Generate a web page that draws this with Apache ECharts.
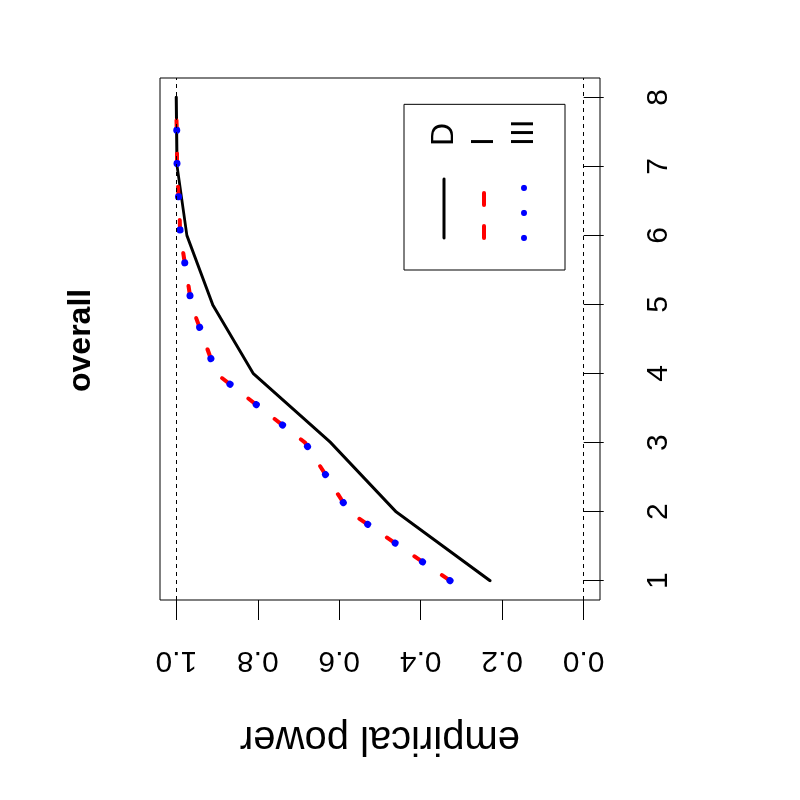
<!DOCTYPE html>
<html>
<head>
<meta charset="utf-8">
<script src="https://cdn.jsdelivr.net/npm/echarts@6/dist/echarts.min.js"></script>
<style>
  html, body { margin: 0; padding: 0; background: #fff; overflow: hidden; }
  /* the R plot is drawn upright and then turned a quarter turn anticlockwise */
  #chart { width: 800px; height: 800px; transform: rotate(-90deg); }
</style>
</head>
<body>
<div id="chart"></div>
<script>
const xValues = [1, 2, 3, 4, 5, 6, 7, 8]
const powerD = [0.230, 0.461, 0.621, 0.811, 0.911, 0.974, 0.998, 1.000]
const powerI = [0.328, 0.576, 0.684, 0.902, 0.963, 0.990, 0.998, 1.000]
const powerIII = [0.328, 0.576, 0.684, 0.902, 0.963, 0.990, 0.998, 1.000]
const yTicks = [0, 0.2, 0.4, 0.6, 0.8, 1.0]
const refLines = [0, 1]

const font = '"Liberation Sans", Arial, Helvetica, sans-serif'

function pairs(ys) {
  return xValues.map((x, i) => [x, ys[i]])
}

// legend keys show only the line, no marker
const noMarker = { color: 'transparent', borderColor: 'transparent', borderWidth: 0, opacity: 0 }

const chart = echarts.init(document.getElementById('chart'))

chart.setOption({
  animation: false,
  backgroundColor: '#fff',
  textStyle: { fontFamily: font, color: '#000' },
  title: {
    text: 'overall',
    left: 408,
    top: 65,
    padding: 0,
    textStyle: { fontFamily: font, fontSize: 32, fontWeight: 'bold', color: '#000' },
  },
  legend: {
    orient: 'vertical',
    left: 530,
    top: 404,
    padding: [24, 15, 25, 29],
    itemWidth: 59,
    itemHeight: 14,
    itemGap: 8,
    selectedMode: false,
    borderColor: '#000',
    borderWidth: 1,
    borderRadius: 0,
    textStyle: { fontFamily: font, fontSize: 32, color: '#000', padding: [0, 0, 0, 28] },
    data: [
      { name: 'D', itemStyle: noMarker, lineStyle: { width: 3, type: 'solid', cap: 'round' } },
      { name: 'I', itemStyle: noMarker, lineStyle: { width: 4, type: [12, 21], cap: 'round' } },
      { name: 'III', itemStyle: noMarker, lineStyle: { width: 6, type: [0.1, 24.9], cap: 'round' } },
    ],
  },
  grid: {
    left: 200,
    right: 78,
    top: 160,
    bottom: 200,
    show: true,
    borderColor: '#000',
    borderWidth: 1,
    backgroundColor: 'transparent',
  },
  xAxis: {
    type: 'value',
    min: 0.72,
    max: 8.28,
    axisLine: { show: false },
    splitLine: { show: false },
    axisTick: {
      show: true,
      length: 20,
      customValues: xValues,
      lineStyle: { color: '#000', width: 1 },
    },
    axisLabel: {
      customValues: xValues,
      fontSize: 30,
      color: '#000',
      fontFamily: font,
      margin: 44,
    },
  },
  yAxis: {
    type: 'value',
    min: -0.04,
    max: 1.04,
    name: 'empirical power',
    nameLocation: 'middle',
    nameRotate: 90,
    nameGap: 118,
    nameTextStyle: { fontFamily: font, fontSize: 40, color: '#000' },
    axisLine: { show: false },
    splitLine: { show: false },
    axisTick: {
      show: true,
      length: 20,
      customValues: yTicks,
      lineStyle: { color: '#000', width: 1 },
    },
    axisLabel: {
      customValues: yTicks,
      rotate: 90,
      fontSize: 30,
      color: '#000',
      fontFamily: font,
      margin: 45,
      formatter: (v) => v.toFixed(1),
    },
  },
  series: [
    {
      name: 'D',
      type: 'line',
      data: pairs(powerD),
      symbol: 'none',
      lineStyle: { color: '#000', width: 3, cap: 'round', join: 'round' },
      itemStyle: { color: '#000' },
      markLine: {
        silent: true,
        symbol: ['none', 'none'],
        label: { show: false },
        lineStyle: { color: '#000', width: 1, type: [4, 4] },
        data: refLines.map((v) => ({ yAxis: v })),
      },
    },
    {
      name: 'I',
      type: 'line',
      data: pairs(powerI),
      symbol: 'none',
      lineStyle: { color: '#ff0000', width: 4, type: [10, 23.25], cap: 'round', join: 'round' },
      itemStyle: { color: '#ff0000' },
    },
    {
      name: 'III',
      type: 'line',
      data: pairs(powerIII),
      symbol: 'none',
      lineStyle: { color: '#0000ff', width: 7, type: [0.1, 33.15], cap: 'round', join: 'round' },
      itemStyle: { color: '#0000ff' },
    },
  ],
})
</script>
</body>
</html>
